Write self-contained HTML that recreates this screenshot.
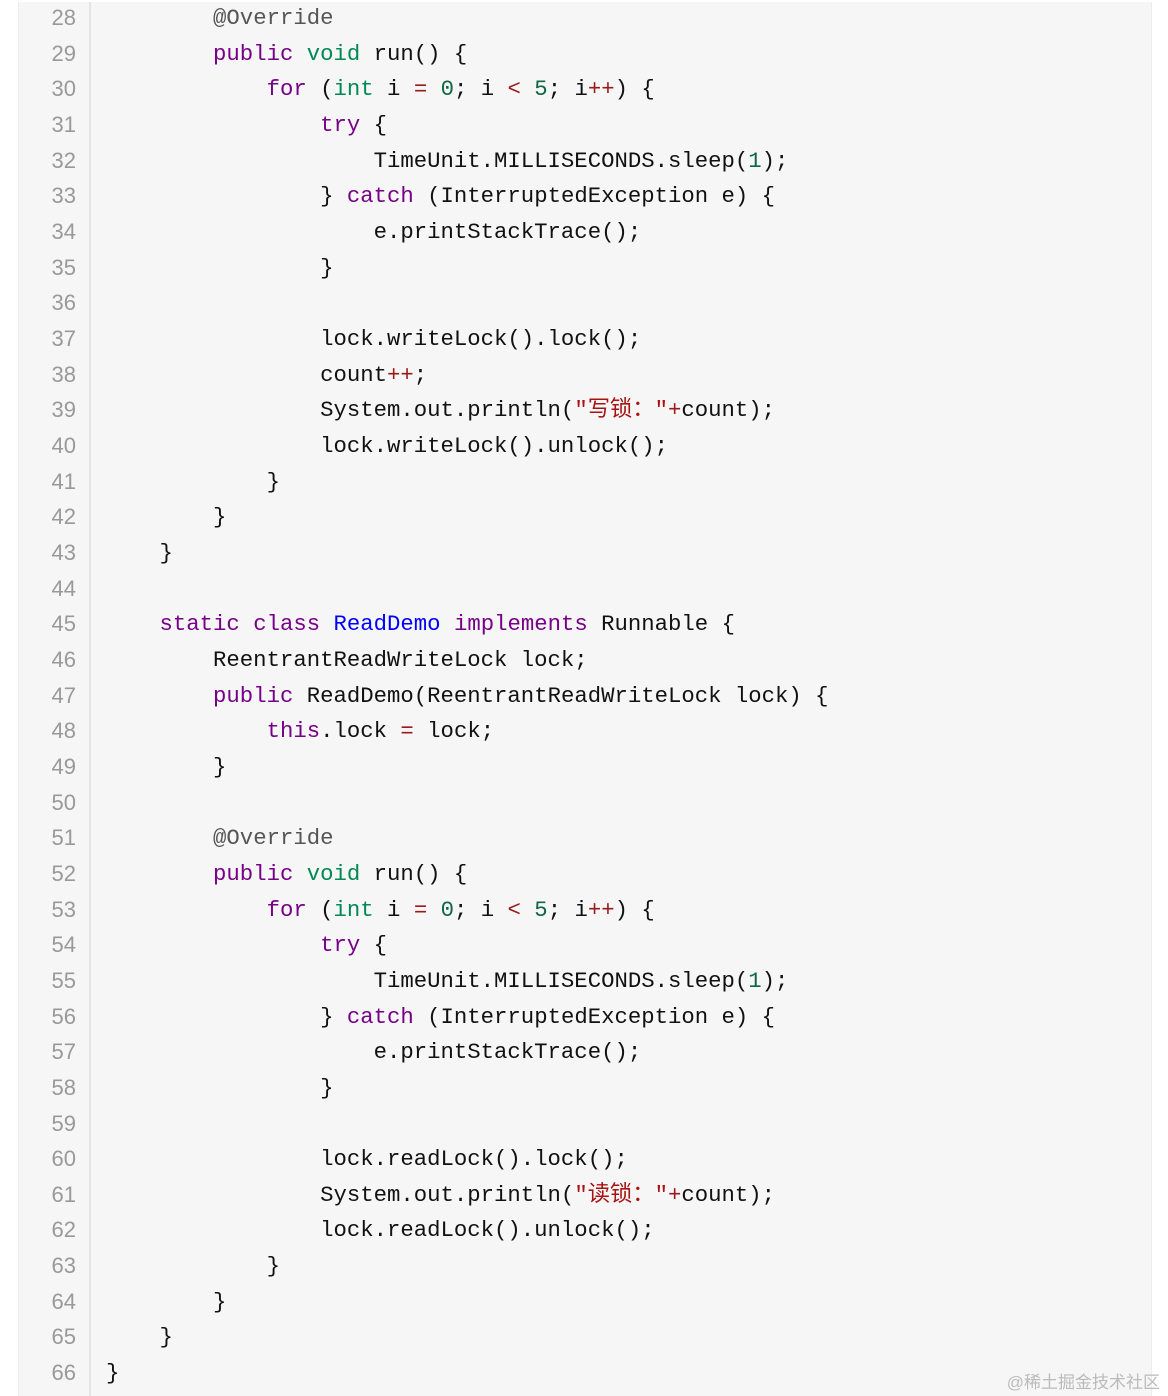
<!DOCTYPE html>
<html><head><meta charset="utf-8"><style>
html,body{margin:0;padding:0;background:#fff;width:1168px;height:1396px;overflow:hidden}
.box{position:absolute;left:18px;top:2px;width:1132px;height:1394px;background:#f6f6f6;border-left:1px solid #ececec;border-right:1px solid #ececec}
.gut{position:absolute;left:89px;top:2px;width:2px;height:1394px;background:#e4e4e4}
.ln{position:absolute;left:20px;width:56px;text-align:right;color:#999;font:22px "Liberation Sans","DejaVu Sans",sans-serif;height:36px;line-height:36px}
.cd{position:absolute;left:106px;white-space:pre;font:22.3px "Liberation Mono","Noto Sans CJK SC",monospace;color:#111;height:36px;line-height:36px}
.k{color:#770088}.t{color:#008855}.n{color:#116644}.o{color:#981a1a}.d{color:#0000ff}.s{color:#aa1111}.a{color:#555}
.wm{position:absolute;right:8px;top:1368px;font:17px "Liberation Sans","Noto Sans CJK SC",sans-serif;color:#bbb}
</style></head><body>
<div class="box"></div><div class="gut"></div>
<div id="c"></div>
<div class="wm">@稀土掘金技术社区</div>
<script>
var L=[
'        <span class="a">@Override</span>',
'        <span class="k">public</span> <span class="t">void</span> run() {',
'            <span class="k">for</span> (<span class="t">int</span> i <span class="o">=</span> <span class="n">0</span>; i <span class="o">&lt;</span> <span class="n">5</span>; i<span class="o">++</span>) {',
'                <span class="k">try</span> {',
'                    TimeUnit.MILLISECONDS.sleep(<span class="n">1</span>);',
'                } <span class="k">catch</span> (InterruptedException e) {',
'                    e.printStackTrace();',
'                }',
'',
'                lock.writeLock().lock();',
'                count<span class="o">++</span>;',
'                System.out.println(<span class="s">"写锁："</span><span class="o">+</span>count);',
'                lock.writeLock().unlock();',
'            }',
'        }',
'    }',
'',
'    <span class="k">static</span> <span class="k">class</span> <span class="d">ReadDemo</span> <span class="k">implements</span> Runnable {',
'        ReentrantReadWriteLock lock;',
'        <span class="k">public</span> ReadDemo(ReentrantReadWriteLock lock) {',
'            <span class="k">this</span>.lock <span class="o">=</span> lock;',
'        }',
'',
'        <span class="a">@Override</span>',
'        <span class="k">public</span> <span class="t">void</span> run() {',
'            <span class="k">for</span> (<span class="t">int</span> i <span class="o">=</span> <span class="n">0</span>; i <span class="o">&lt;</span> <span class="n">5</span>; i<span class="o">++</span>) {',
'                <span class="k">try</span> {',
'                    TimeUnit.MILLISECONDS.sleep(<span class="n">1</span>);',
'                } <span class="k">catch</span> (InterruptedException e) {',
'                    e.printStackTrace();',
'                }',
'',
'                lock.readLock().lock();',
'                System.out.println(<span class="s">"读锁："</span><span class="o">+</span>count);',
'                lock.readLock().unlock();',
'            }',
'        }',
'    }',
'}'];
var h='';
for(var i=0;i<L.length;i++){var y=(18+i*35.66-18).toFixed(1);
h+='<div class="ln" style="top:'+y+'px">'+(28+i)+'</div><div class="cd" style="top:'+y+'px">'+L[i]+'</div>';}
document.getElementById('c').innerHTML=h;
</script>
</body></html>
